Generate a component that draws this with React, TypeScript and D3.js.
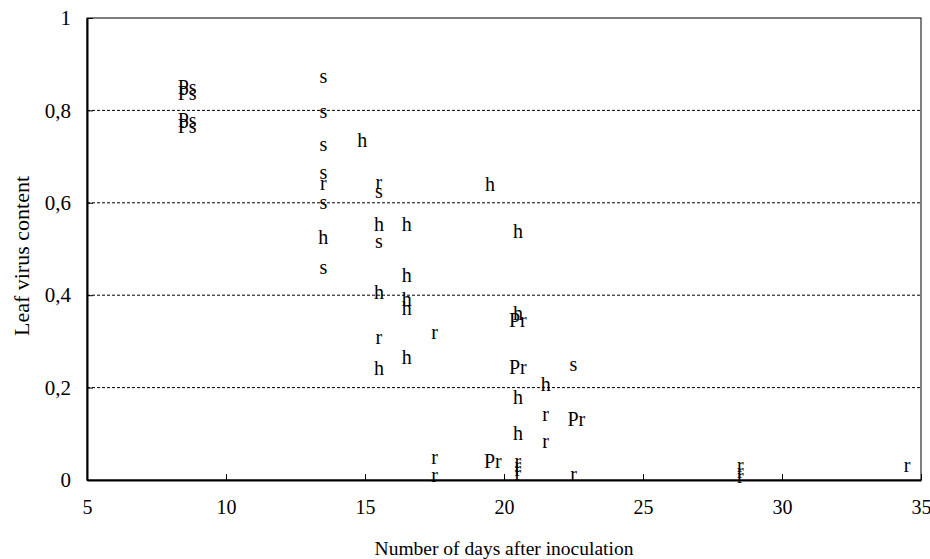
import React, { useRef, useEffect } from 'react';
import * as d3 from 'd3';

// each point is drawn as its letter code
const labels = [
  'Ps', 'Ps', 'Ps', 'Ps',
  's', 's', 's', 's', 'r', 's', 'h', 's',
  'h',
  'r', 's', 'h', 's', 'h', 'r', 'h',
  'h', 'h', 'h', 'h', 'h',
  'r', 'r', 'r',
  'h', 'Pr',
  'h', 'h', 'Pr', 'Pr', 'h', 'h', 'r', 'r', 'r', 'r',
  'h', 'r', 'r',
  's', 'Pr', 'r',
  'r', 'r', 'r',
  'r',
];
const days = [
  8.6, 8.6, 8.6, 8.6,
  13.5, 13.5, 13.5, 13.5, 13.5, 13.5, 13.5, 13.5,
  14.9,
  15.5, 15.5, 15.5, 15.5, 15.5, 15.5, 15.5,
  16.5, 16.5, 16.5, 16.5, 16.5,
  17.5, 17.5, 17.5,
  19.5, 19.6,
  20.5, 20.5, 20.5, 20.5, 20.5, 20.5, 20.5, 20.5, 20.5, 20.5,
  21.5, 21.5, 21.5,
  22.5, 22.6, 22.5,
  28.5, 28.5, 28.5,
  34.5,
];
const values = [
  0.848, 0.836, 0.778, 0.765,
  0.872, 0.797, 0.725, 0.664, 0.64, 0.6, 0.524, 0.459,
  0.734,
  0.643, 0.623, 0.552, 0.515, 0.405, 0.307, 0.24,
  0.552, 0.442, 0.39, 0.37, 0.264,
  0.318, 0.048, 0.008,
  0.638, 0.04,
  0.537, 0.36, 0.345, 0.243, 0.178, 0.1, 0.04, 0.03, 0.022, 0.014,
  0.206, 0.141, 0.083,
  0.249, 0.13, 0.011,
  0.03, 0.017, 0.006,
  0.03,
];
const xTicks = [5, 10, 15, 20, 25, 30, 35];
const yTicks = [0, 0.2, 0.4, 0.6, 0.8, 1];
const gridValues = [0.2, 0.4, 0.6, 0.8];

const W = 930;
const H = 559;
const margin = { top: 18, right: 9, bottom: 79, left: 87 };
const FONT = "'Liberation Serif', 'Times New Roman', 'DejaVu Serif', serif";

const App = () => {
  const svgRef = useRef<SVGSVGElement | null>(null);

  useEffect(() => {
    const svg = d3.select(svgRef.current);
    svg.selectAll('*').remove();
    const x = d3.scaleLinear().domain([5, 35]).range([margin.left, W - margin.right]);
    const y = d3.scaleLinear().domain([0, 1]).range([H - margin.bottom, margin.top]);
    const g = svg.append('g').style('font-family', FONT);

    // dashed gridlines
    g.selectAll('.grid').data(gridValues).enter().append('line')
      .attr('x1', x(5)).attr('x2', x(35)).attr('y1', d => y(d)).attr('y2', d => y(d))
      .attr('stroke', '#000').attr('stroke-width', 1).attr('stroke-dasharray', '3 2');

    // frame
    g.append('rect').attr('x', x(5)).attr('y', y(1)).attr('width', x(35) - x(5)).attr('height', y(0) - y(1))
      .attr('fill', 'none').attr('stroke', '#000').attr('stroke-width', 1);

    const xAxis = g.append('g').attr('transform', `translate(0,${y(0)})`)
      .call(d3.axisBottom(x).tickValues(xTicks).tickSizeInner(-6).tickSizeOuter(0).tickPadding(20)
        .tickFormat(d => String(d)));
    const yAxis = g.append('g').attr('transform', `translate(${x(5)},0)`)
      .call(d3.axisLeft(y).tickValues(yTicks).tickSizeInner(-6).tickSizeOuter(0).tickPadding(16)
        .tickFormat(d => (d === 0 || d === 1 ? String(d) : d3.format('.1f')(d as number).replace('.', ','))));
    [xAxis, yAxis].forEach(a => {
      a.attr('font-family', null);
      a.select('.domain').attr('stroke', '#000').attr('stroke-width', 2);
      a.selectAll('.tick line').attr('stroke', '#000');
      a.selectAll('.tick text').style('font-family', FONT).attr('font-size', 21).attr('fill', '#000');
    });
    xAxis.selectAll('.tick text').attr('font-size', 20);

    // point letters
    g.selectAll('.pt').data(labels).enter().append('text').attr('class', 'pt')
      .attr('x', (_, i) => x(days[i])).attr('y', (_, i) => y(values[i])).attr('dy', '0.3em')
      .attr('text-anchor', 'middle').style('font-family', FONT).attr('font-size', 20).attr('fill', '#000')
      .text(d => d);

    g.append('text').attr('x', (x(5) + x(35)) / 2).attr('y', 555).attr('text-anchor', 'middle')
      .style('font-family', FONT).attr('font-size', 19.5).text('Number of days after inoculation');
    g.append('text').attr('transform', `translate(29,256) rotate(-90)`)
      .attr('text-anchor', 'middle').style('font-family', FONT).attr('font-size', 22).text('Leaf virus content');
  }, []);

  return (
    <svg ref={svgRef} width={W} height={H} style={{ position: 'absolute', left: 0, top: 0, background: '#fff' }} />
  );
};

export default App;
